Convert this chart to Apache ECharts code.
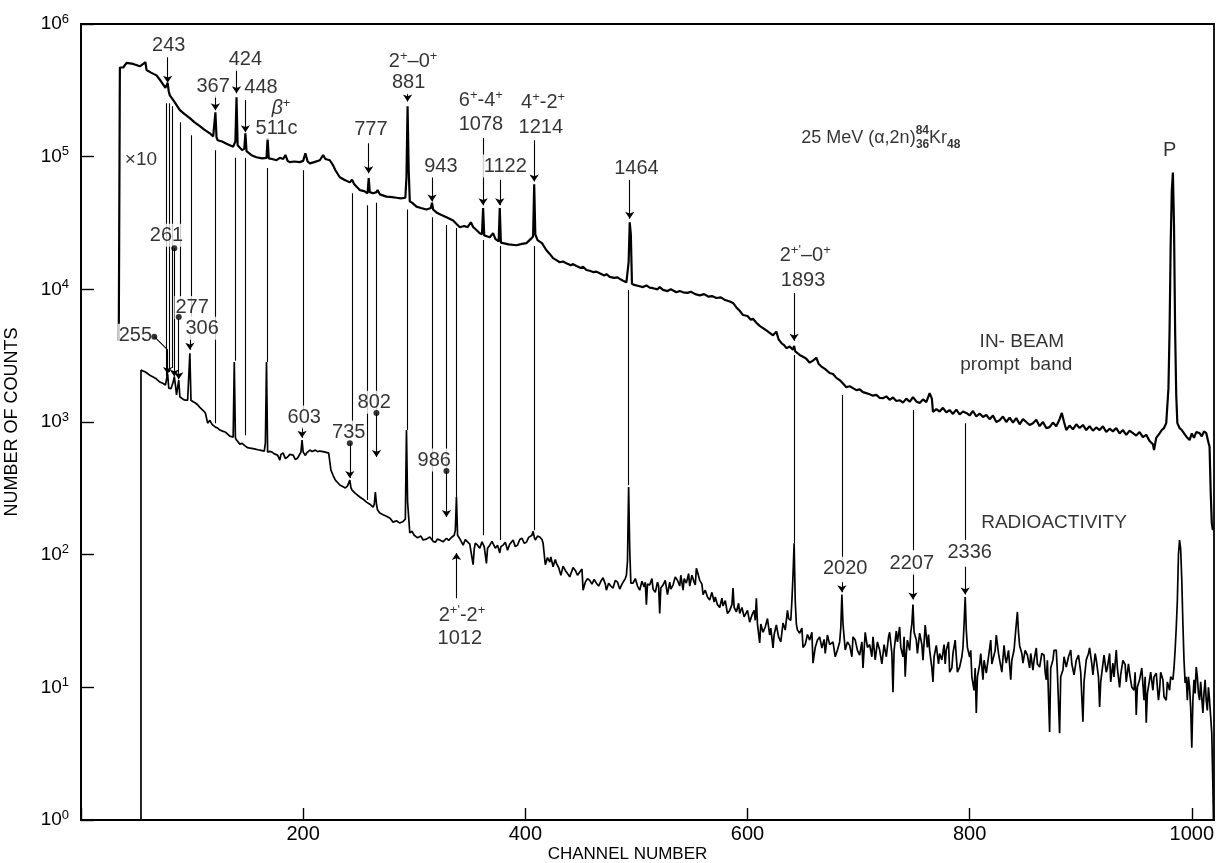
<!DOCTYPE html>
<html>
<head>
<meta charset="utf-8">
<script src="https://cdn.jsdelivr.net/npm/echarts@6/dist/echarts.min.js"></script>
<style>
  html, body { margin: 0; background: #fff; }
  #chart { width: 1219px; height: 863px; }
</style>
</head>
<body>
<div id="chart"></div>
<script>
// ── Espectro IN-BEAM (x10), [canal, cuentas] ─────────────────────────────
const IN_BEAM = [
  [34, 4100], [35, 4.7e5], [38, 4.7e5], [41, 5.1e5], [47, 5.0e5], [53, 4.8e5], [56, 5.0e5], [58, 5.15e5],
  [59, 4.5e5], [63, 4.3e5], [68, 4.1e5], [72, 3.7e5], [76, 3.3e5], [77, 3.4e5], [78, 3.6e5], [79, 3.1e5],
  [80, 2.9e5], [84, 2.6e5], [89, 2.24e5], [93, 2.1e5], [98, 1.95e5], [102, 1.82e5], [107, 1.7e5], [111, 1.6e5],
  [116, 1.5e5], [119, 1.42e5], [120, 1.45e5], [121, 2.16e5], [122, 1.4e5], [123, 1.33e5], [127, 1.3e5],
  [131, 1.25e5], [137, 1.19e5], [139, 1.3e5], [140, 2.8e5], [141, 1.22e5], [145, 1.12e5], [147, 1.15e5],
  [148, 1.5e5], [149, 1.1e5], [150, 1.08e5], [154, 1.02e5], [158, 9.9e4], [163, 9.7e4], [167, 9.8e4],
  [168, 1.38e5], [169, 9.7e4], [172, 9.6e4], [176, 9.4e4], [179, 9.8e4], [182, 9.6e4], [184, 1.03e5],
  [186, 9.3e4], [188, 9.1e4], [192, 9.2e4], [197, 9.1e4], [200, 9.3e4], [202, 1.06e5], [204, 9.2e4],
  [206, 8.9e4], [210, 9.1e4], [215, 9.4e4], [218, 1.03e5], [220, 9.6e4], [224, 9.4e4], [227, 8.6e4],
  [229, 7.9e4], [233, 7.0e4], [237, 6.7e4], [242, 6.4e4], [244, 6.7e4], [246, 6.2e4], [251, 5.6e4],
  [255, 5.5e4], [258, 5.3e4], [259, 6.9e4], [260, 5.4e4], [263, 5.3e4], [266, 5.4e4], [267, 5.6e4],
  [269, 5.2e4], [275, 5.0e4], [280, 4.95e4], [284, 4.9e4], [288, 4.85e4], [292, 4.9e4], [293, 7e4],
  [294, 2.4e5], [295, 8e4], [296, 4.6e4], [298, 4.5e4], [302, 4.2e4], [306, 4.1e4], [311, 4.0e4],
  [315, 4.1e4], [316, 4.5e4], [317, 4.0e4], [320, 3.8e4], [324, 3.65e4], [329, 3.5e4], [335, 3.3e4],
  [341, 2.94e4], [345, 3.0e4], [348, 2.94e4], [351, 3.2e4], [353, 2.95e4], [356, 2.8e4], [359, 2.65e4],
  [361, 2.6e4], [362, 4.1e4], [363, 2.55e4], [366, 2.5e4], [368, 2.47e4], [371, 2.65e4], [373, 2.4e4],
  [376, 2.3e4], [377, 4.1e4], [378, 2.25e4], [380, 2.23e4], [385, 2.18e4], [392, 2.15e4], [397, 2.2e4],
  [401, 2.23e4], [405, 2.4e4], [407, 2.5e4], [408, 6.2e4], [409, 2.6e4], [411, 2.35e4], [415, 2.23e4],
  [419, 1.97e4], [422, 1.85e4], [425, 1.72e4], [428, 1.66e4], [431, 1.6e4], [434, 1.62e4], [437, 1.57e4],
  [441, 1.52e4], [443, 1.55e4], [446, 1.5e4], [450, 1.45e4], [452, 1.48e4], [455, 1.4e4], [458, 1.38e4],
  [461, 1.35e4], [464, 1.36e4], [467, 1.32e4], [471, 1.27e4], [473, 1.3e4], [476, 1.24e4], [480, 1.22e4],
  [483, 1.23e4], [485, 1.2e4], [488, 1.16e4], [491, 1.13e4], [492, 1.15e4], [493, 1.6e4], [494, 3.2e4],
  [495, 2.6e4], [496, 1.1e4], [498, 1.08e4], [502, 1.06e4], [506, 1.04e4], [509, 1.07e4], [512, 1.03e4],
  [515, 1.02e4], [519, 1.0e4], [521, 1.04e4], [524, 9.9e3], [528, 9.7e3], [531, 1.0e4], [536, 9.5e3],
  [539, 9.7e3], [542, 9.5e3], [546, 9.4e3], [549, 9.6e3], [553, 9.2e3], [557, 9.0e3], [561, 9.2e3],
  [565, 8.8e3], [568, 8.9e3], [572, 8.6e3], [576, 8.7e3], [580, 8.3e3], [584, 8.1e3], [587, 7.9e3],
  [590, 7.3e3], [593, 6.9e3], [596, 6.4e3], [600, 6.3e3], [603, 5.9e3], [605, 6.0e3], [608, 5.6e3],
  [611, 5.3e3], [614, 5.1e3], [617, 4.9e3], [620, 4.7e3], [623, 4.5e3], [626, 4.8e3], [628, 4.2e3],
  [631, 3.9e3], [633, 3.8e3], [635, 3.6e3], [638, 3.7e3], [641, 3.5e3], [642, 3.75e3], [643, 3.4e3],
  [645, 3.3e3], [647, 3.2e3], [650, 3.1e3], [653, 3.0e3], [656, 2.8e3], [659, 2.9e3], [662, 3.05e3],
  [664, 2.75e3], [667, 2.6e3], [670, 2.5e3], [674, 2.34e3], [677, 2.3e3], [680, 2.15e3], [683, 2.07e3],
  [686, 1.95e3], [689, 1.83e3], [692, 1.86e3], [695, 1.8e3], [698, 1.74e3], [701, 1.76e3], [704, 1.68e3],
  [707, 1.65e3], [710, 1.62e3], [713, 1.58e3], [716, 1.6e3], [719, 1.52e3], [722, 1.51e3], [725, 1.56e3],
  [728, 1.47e3], [731, 1.53e3], [734, 1.44e3], [737, 1.46e3], [740, 1.4e3], [743, 1.5e3], [746, 1.42e3],
  [749, 1.54e3], [752, 1.43e3], [755, 1.39e3], [758, 1.48e3], [761, 1.41e3], [764, 1.65e3], [766, 1.5e3],
  [767, 1.19e3], [770, 1.25e3], [773, 1.2e3], [776, 1.28e3], [779, 1.18e3], [782, 1.23e3], [785, 1.15e3],
  [788, 1.24e3], [791, 1.14e3], [794, 1.2e3], [797, 1.17e3], [800, 1.12e3], [803, 1.21e3], [806, 1.1e3],
  [809, 1.16e3], [812, 1.09e3], [815, 1.13e3], [818, 1.05e3], [821, 1.12e3], [824, 1.0e3], [827, 1.03e3],
  [830, 1.1e3], [833, 1.0e3], [836, 1.08e3], [839, 990], [842, 1.07e3], [845, 960], [848, 1.05e3],
  [851, 1.0e3], [854, 950], [857, 980], [860, 1.04e3], [863, 930], [866, 1.0e3], [869, 900], [872, 915],
  [875, 990], [878, 930], [881, 1.05e3], [883, 1.17e3], [885, 1.0e3], [887, 870], [890, 940], [893, 880],
  [896, 960], [899, 900], [902, 950], [905, 870], [908, 930], [911, 860], [914, 910], [917, 870], [920, 930],
  [923, 840], [926, 890], [929, 850], [932, 900], [935, 820], [938, 870], [941, 800], [944, 860], [947, 825],
  [950, 790], [953, 840], [956, 770], [959, 800], [962, 720], [965, 680], [966, 614], [968, 760], [971, 820],
  [973, 870], [975, 900], [977, 980], [979, 1800], [980, 4.9e3], [981, 2.2e4], [982, 5.5e4], [983, 7.6e4],
  [984, 3.0e4], [985, 4.9e3], [986, 1.6e3], [987, 980], [989, 900], [991, 870], [994, 800], [996, 760],
  [998, 731], [1000, 820], [1002, 760], [1004, 840], [1007, 825], [1009, 780], [1011, 850], [1013, 825],
  [1015, 700], [1016, 650], [1017, 300], [1018, 173], [1019, 153]
];

// ── Espectro RADIOACTIVITY ───────────────────────────────────────────────
const RADIO = [
  [54, 1], [54, 2460], [58, 2380], [62, 2250], [67, 2140], [71, 2000], [74, 1950], [76, 1900], [77, 1850],
  [78, 2300], [79, 1800], [81, 1780], [82, 1800], [83, 2000], [84, 2200], [85, 1900], [86, 1600], [87, 1650],
  [88, 2070], [89, 1550], [90, 1510], [92, 1480], [94, 1460], [96, 1460], [97, 1470], [98, 3300], [99, 1460],
  [101, 1420], [103, 1390], [105, 1350], [107, 1290], [110, 1220], [112, 1170], [114, 980], [116, 1030],
  [118, 960], [121, 915], [123, 900], [125, 870], [128, 850], [130, 840], [132, 810], [134, 783], [137, 770],
  [138, 2830], [139, 760], [140, 731], [143, 681], [145, 690], [148, 658], [150, 640], [152, 636], [155, 630],
  [157, 625], [159, 618], [161, 614], [165, 604], [166, 700], [167, 2830], [168, 593], [170, 600], [172, 593],
  [174, 575], [177, 563], [179, 516], [180, 570], [182, 583], [184, 530], [186, 544], [188, 570], [191, 563],
  [193, 520], [195, 535], [198, 593], [199, 731], [200, 593], [202, 560], [203, 583], [206, 614], [208, 600],
  [211, 614], [213, 598], [215, 604], [218, 598], [220, 593], [223, 583], [225, 434], [227, 395], [229, 365],
  [231, 350], [233, 335], [236, 325], [238, 318], [240, 330], [242, 365], [243, 320], [244, 307], [247, 290],
  [251, 272], [254, 262], [257, 249], [260, 240], [263, 228], [264, 240], [265, 296], [266, 240], [267, 217],
  [269, 206], [272, 200], [275, 195], [278, 189], [281, 176], [284, 180], [287, 173], [290, 178], [292, 185],
  [293, 870], [294, 250], [296, 146], [298, 150], [300, 140], [303, 134], [306, 138], [308, 129], [311, 131],
  [314, 136], [317, 126], [319, 124], [321, 131], [323, 129], [326, 125], [329, 133], [331, 128], [334, 136],
  [336, 140], [337, 153], [338, 272], [339, 140], [341, 132], [344, 118], [346, 130], [347, 129], [350, 120],
  [353, 84], [354, 110], [355, 122], [357, 118], [359, 112], [361, 125], [363, 115], [365, 86], [366, 112],
  [368, 118], [370, 126], [373, 112], [375, 118], [377, 103], [378, 115], [380, 118], [382, 124], [384, 108],
  [386, 120], [389, 129], [391, 115], [393, 118], [395, 130], [397, 133], [399, 122], [401, 124], [403, 135],
  [406, 140], [407, 150], [408, 136], [409, 129], [411, 138], [413, 136], [415, 130], [416, 122], [418, 84],
  [420, 95], [422, 88], [423, 96], [425, 81], [427, 92], [428, 86], [430, 80], [432, 70], [434, 82], [436, 76],
  [438, 72], [440, 68], [443, 80], [445, 76], [447, 70], [449, 74], [451, 78], [452, 54], [454, 62], [456, 66],
  [458, 64], [460, 60], [462, 65], [464, 61], [466, 58], [468, 63], [470, 67], [472, 60], [473, 54], [475, 61],
  [477, 58], [479, 56], [481, 64], [483, 62], [485, 55], [487, 60], [488, 59], [490, 66], [491, 70], [492, 90],
  [493, 323], [494, 110], [495, 61], [497, 61], [499, 66], [501, 58], [503, 54], [505, 63], [507, 57],
  [508, 62], [509, 42], [510, 60], [512, 59], [514, 66], [515, 55], [517, 52], [519, 62], [520, 58], [521, 36],
  [522, 56], [524, 59], [526, 64], [528, 50], [530, 62], [531, 55], [533, 59], [535, 68], [537, 64], [539, 58],
  [540, 70], [542, 54], [543, 66], [545, 61], [547, 72], [548, 58], [550, 70], [552, 62], [553, 59], [554, 79],
  [555, 74], [557, 64], [559, 60], [560, 50], [562, 54], [564, 48], [566, 45.5], [568, 52], [570, 44],
  [571, 48], [573, 42], [575, 40], [577, 47], [578, 41], [580, 45], [582, 36], [584, 38], [586, 42], [587, 56],
  [588, 40], [590, 37], [592, 43], [593, 36], [595, 40], [597, 34], [598, 33], [600, 38], [602, 31], [604, 35],
  [606, 38], [607, 32], [608, 47], [609, 30], [611, 21.6], [612, 30], [614, 26], [616, 28.5], [618, 33],
  [620, 24.8], [621, 28], [623, 19.8], [624, 25], [626, 29.5], [628, 24], [630, 22], [632, 30.5], [634, 27],
  [636, 38], [637, 33], [639, 32], [640, 45], [641, 70], [642, 122], [643, 45], [644, 30], [645, 27],
  [647, 25.6], [649, 28], [650, 20], [652, 21], [654, 25], [656, 22.7], [658, 26], [659, 15.2], [661, 20],
  [663, 22.7], [665, 24], [667, 19.8], [669, 23], [670, 18], [672, 24.8], [674, 21], [677, 22], [679, 17],
  [681, 19.1], [683, 22], [684, 28], [685, 50], [686, 30], [688, 19.1], [690, 22], [692, 20.7], [694, 17],
  [695, 24], [697, 22.7], [699, 19], [701, 17.5], [703, 22], [704, 14], [706, 26], [708, 20], [710, 21],
  [712, 17], [713, 24], [715, 16.1], [717, 22], [719, 19.1], [721, 15], [723, 21], [725, 17], [727, 24],
  [728, 26], [730, 18], [731, 9.2], [732, 19], [734, 26.6], [735, 22], [737, 28.5], [738, 20], [740, 17],
  [741, 24], [742, 12], [743, 18], [744, 22.7], [746, 19], [747, 26], [748, 30], [749, 42], [750, 26],
  [752, 22.7], [753, 18], [755, 25.6], [757, 21], [758, 16], [760, 29.5], [762, 20], [763, 25], [764, 19.1],
  [766, 14], [767, 11], [768, 17], [770, 20.7], [772, 15], [773, 18], [775, 16.1], [777, 21], [778, 15],
  [779, 19.1], [781, 22], [782, 13], [784, 14], [785, 18], [787, 22.7], [788, 17], [789, 13], [791, 14.2],
  [793, 17], [794, 20], [795, 30], [796, 48], [797, 27], [798, 20], [800, 16.9], [801, 19], [802, 12],
  [804, 9.5], [805, 14], [806, 6.4], [807, 12], [809, 14.8], [810, 18], [812, 11.4], [813, 16], [815, 12.8],
  [817, 17], [819, 22.7], [820, 15], [821, 14.8], [823, 19], [824, 24.8], [826, 18], [827, 16.1], [829, 13],
  [831, 20.7], [832, 17], [833, 15.2], [835, 19], [837, 11.4], [838, 16], [840, 19.1], [841, 24], [842, 30],
  [843, 37], [844, 26], [845, 20.7], [847, 18], [848, 15.2], [850, 19], [852, 17.5], [854, 14], [855, 18],
  [857, 13.5], [858, 16], [860, 19.8], [861, 15], [863, 14.2], [865, 18], [867, 17.5], [868, 13], [869, 11.4],
  [870, 16], [872, 4.6], [873, 14], [875, 16.1], [876, 19], [878, 19.1], [879, 13], [881, 4.5], [882, 12],
  [884, 13.5], [885, 17], [887, 14.2], [889, 17], [891, 19.1], [892, 15], [894, 12.4], [896, 16], [898, 17.5],
  [900, 13], [902, 5.5], [903, 11], [905, 16.1], [907, 18], [908, 19.8], [910, 15], [911, 12.4], [913, 18],
  [914, 16.1], [916, 12], [917, 7.1], [918, 11], [920, 15], [921, 17.5], [923, 13], [924, 14], [926, 18],
  [927, 11], [929, 15.2], [930, 12], [932, 19.1], [933, 14], [935, 10], [936, 12.4], [938, 16], [940, 14.8],
  [941, 11], [943, 15], [944, 12.8], [946, 10], [948, 9.5], [949, 13], [950, 6.2], [951, 10], [953, 11.4],
  [955, 14], [957, 8], [958, 12], [959, 5.4], [960, 9], [962, 11.4], [963, 13], [965, 9.5], [966, 12],
  [968, 12.8], [970, 8], [971, 9.5], [972, 13], [974, 11.4], [975, 8.5], [977, 8], [978, 11], [980, 9.5],
  [981, 12], [983, 11.4], [984, 14], [985, 19.1], [986, 28], [987, 45], [988, 100], [989, 129], [990, 110],
  [991, 64], [992, 30], [993, 16], [994, 10.8], [995, 12], [996, 8], [997, 12], [998, 10], [999, 7],
  [1000, 3.5], [1001, 8], [1002, 11.4], [1003, 9], [1004, 14.2], [1005, 12], [1006, 9], [1007, 8], [1008, 11],
  [1010, 6.4], [1011, 9], [1012, 11.4], [1013, 8], [1014, 6.7], [1015, 10], [1016, 8], [1017, 6], [1018, 4.5],
  [1019, 1.8], [1019.5, 1]
];

// ── Líneas verticales que unen picos: [canal, cuentas arriba, cuentas abajo]
const CONNECTORS = [
  [77, 2.53e5, 2.2e3], [79.5, 2.53e5, 2.38e3], [82, 2.4e5, 2.55e3], [89, 1.82e5, 8.3e3], [99, 1.45e5, 5.9e3],
  [121, 1.12e5, 980], [139, 9.8e4, 2.9e3], [148, 9.8e4, 796], [168, 8.2e4, 2.83e3], [200, 7.9e4, 1.23e3],
  [244, 5.3e4, 948], [258, 4.3e4, 258], [266, 4.5e4, 1.17e3], [294, 4.0e4, 870], [316, 3.5e4, 129],
  [329, 3.05e4, 427], [338, 2.9e4, 272], [362, 2.35e4, 140], [377, 2.12e4, 129], [408, 2.12e4, 153],
  [493, 9.9e3, 335], [642, 3.2e3, 122], [685, 1.6e3, 91], [749, 1.23e3, 108], [796, 980, 129]
];

// ── Flechas: [canal, desde, hasta] (punta en "hasta")
const ARROWS = [
  [78, 5.62e5, 3.6e5], [121, 2.9e5, 2.24e5], [140, 4.6e5, 3.0e5], [148, 2.67e5, 1.53e5], [259, 1.26e5, 7.5e4],
  [294, 3.0e5, 2.6e5], [316, 7.0e4, 4.6e4], [362, 1.38e5, 4.3e4], [377, 6.7e4, 4.3e4], [408, 1.33e5, 6.5e4],
  [494, 6.7e4, 3.4e4], [642, 9.4e3, 4.1e3], [685, 62, 52], [749, 73, 46], [796, 81, 50], [98, 4.5e3, 3.5e3],
  [199, 915, 760], [242, 693, 378], [266, 1.17e3, 544], [329, 427, 192], [338, 47, 103], [78, 3.5e3, 2.3e3],
  [84, 2.04e4, 2.2e3], [88, 6.2e3, 2.1e3]
];

// ── Puntos de etiqueta y trazo inclinado (255)
const DOTS = [[66, 4.4e3], [84, 2.04e4], [88, 6.2e3], [242, 693], [266, 1.17e3], [329, 427]];
const SLANT = [[66, 4.4e3], [78, 3.5e3]];

// ── Etiquetas: [texto, canal, cuentas]
const LABELS = [
  ['{n|243}', 79, 6.9e5], ['{n|367}', 119, 3.4e5], ['{n|424}', 148, 5.4e5], ['{n|448}', 162, 3.3e5],
  ['{b|β}{s|+}', 180, 2.3e5], ['{n|511c}', 176, 1.64e5], ['{n|777}', 261, 1.61e5],
  ['{n|2}{s|+}{n|–0}{s|+}', 299, 5.2e5], ['{n|881}', 295, 3.6e5], ['{n|943}', 324, 8.5e4],
  ['{n|6}{s|+}{n|-4}{s|+}', 360, 2.67e5], ['{n|1078}', 360, 1.76e5], ['{n|1122}', 382, 8.5e4],
  ['{n|4}{s|+}{n|-2}{s|+}', 416, 2.58e5], ['{n|1214}', 414, 1.67e5], ['{n|1464}', 500, 8.2e4],
  ['{n|P}', 980, 1.12e5], ['{w|×10}', 54, 9.4e4],
  ["{n|2}{s|+'}{n|–0}{s|+}", 652, 1.81e4], ['{n|1893}', 650, 1.17e4],
  ['{w|IN- BEAM}', 847, 4.0e3], ['{w|prompt  band}', 842, 2.7e3], ['{w|RADIOACTIVITY}', 876, 173],
  ['{n|2020}', 688, 79], ['{n|2207}', 748, 86], ['{n|2336}', 800, 103],
  ['{n|255}', 49, 4.5e3], ['{n|261}', 77, 2.56e4], ['{n|277}', 100, 7.3e3], ['{n|306}', 109, 5.1e3],
  ['{n|603}', 201, 1.09e3], ['{n|735}', 241, 840], ['{n|802}', 264, 1.41e3], ['{n|986}', 318, 516],
  ["{n|2}{s|+'}{n|-2}{s|+}", 343, 35], ['{n|1012}', 341, 23.5]
];

// reacción, anclada a la izquierda
const REACTION_TEXT = '25 MeV (α,2n)';
const REACTION_AT = [647, 1.38e5];

const FONT = 'Liberation Sans';
const INK = '#000';

const rich = {
  n: { fontFamily: FONT, fontSize: 20, lineHeight: 23, color: INK },
  w: { fontFamily: FONT, fontSize: 19, lineHeight: 23, color: INK },
  b: { fontFamily: FONT, fontSize: 20, lineHeight: 23, color: INK, fontStyle: 'italic' },
  s: { fontFamily: FONT, fontSize: 13, lineHeight: 13, color: INK, verticalAlign: 'top' },
  m: { fontFamily: FONT, fontSize: 18, lineHeight: 26, color: INK },
  u: { fontFamily: FONT, fontSize: 12, lineHeight: 12, color: INK, fontWeight: 'bold', verticalAlign: 'top' },
  d: { fontFamily: FONT, fontSize: 12, lineHeight: 12, color: INK, fontWeight: 'bold', verticalAlign: 'bottom' },
  g: { fontFamily: FONT, fontSize: 1, lineHeight: 26 },
  yb: { fontFamily: FONT, fontSize: 19, lineHeight: 23, color: INK },
  ye: { fontFamily: FONT, fontSize: 13, lineHeight: 13, color: INK, verticalAlign: 'top' }
};

const ctx = document.createElement('canvas').getContext('2d');
ctx.font = '18px "' + FONT + '"';
const reactionW = ctx.measureText(REACTION_TEXT).width;

const el = document.getElementById('chart');
const chart = echarts.init(el, null, { renderer: 'canvas' });

const labelData = LABELS.map(([txt, ch, v]) => ({ value: [ch, v], txt }));
labelData.push({ value: REACTION_AT, txt: '{m|' + REACTION_TEXT + '}{u|84}{m|Kr}{d|48}',
  label: { position: 'right', distance: 0, backgroundColor: 'transparent' } });
labelData.push({ value: REACTION_AT, txt: '{g| }{d|36}',
  label: { position: 'right', distance: 0, offset: [reactionW, 0], backgroundColor: 'transparent' } });

chart.setOption({
  animation: false,
  backgroundColor: '#fff',
  grid: {
    left: 81, right: 5, top: 24, bottom: 43, containLabel: false, outerBoundsMode: 'none',
    show: true, borderColor: INK, borderWidth: 1.8
  },
  xAxis: {
    type: 'value', min: 0, max: 1020, interval: 200,
    name: 'CHANNEL NUMBER', nameLocation: 'middle', nameGap: 26, nameMoveOverlap: false,
    nameTextStyle: { fontFamily: FONT, fontSize: 17, color: INK, padding: [0, 40, 0, 0] },
    axisLine: { lineStyle: { color: INK, width: 1.8 } },
    axisTick: { inside: true, length: 12, lineStyle: { color: INK, width: 1.4 } },
    axisLabel: { fontFamily: FONT, fontSize: 20, color: INK, margin: 4, formatter: v => (v === 0 ? '' : v) },
    splitLine: { show: false }
  },
  yAxis: {
    type: 'log', logBase: 10, min: 1, max: 1e6, splitNumber: 6,
    name: 'NUMBER OF COUNTS', nameLocation: 'middle', nameGap: 60, nameRotate: 90, nameMoveOverlap: false,
    nameTextStyle: { fontFamily: FONT, fontSize: 18, color: INK },
    axisLine: { lineStyle: { color: INK, width: 1.8 } },
    axisTick: { inside: true, length: 13, lineStyle: { color: INK, width: 1.4 } },
    minorTick: { show: false },
    axisLabel: {
      margin: 12, rich,
      formatter: v => '{yb|10}{ye|' + Math.round(Math.log10(v)) + '}'
    },
    splitLine: { show: false }
  },
  series: [
    {
      name: 'connectors', type: 'lines', coordinateSystem: 'cartesian2d', z: 1, silent: true,
      lineStyle: { color: INK, width: 1.1, opacity: 1 },
      data: CONNECTORS.map(([ch, a, b]) => ({ coords: [[ch, a], [ch, b]] }))
        .concat([{ coords: SLANT }])
    },
    {
      name: 'arrows', type: 'lines', coordinateSystem: 'cartesian2d', z: 1, silent: true,
      symbol: ['none', 'arrow'], symbolSize: 7,
      lineStyle: { color: INK, width: 1.1, opacity: 1 },
      data: ARROWS.map(([ch, a, b]) => ({ coords: [[ch, a], [ch, b]] }))
    },
    {
      name: 'IN-BEAM', type: 'line', data: IN_BEAM, showSymbol: false, z: 3,
      lineStyle: { color: INK, width: 2.2 }, silent: true
    },
    {
      name: 'RADIOACTIVITY', type: 'line', data: RADIO, showSymbol: false, z: 3,
      lineStyle: { color: INK, width: 1.7 }, silent: true
    },
    {
      name: 'labels', type: 'scatter', data: labelData, symbolSize: 1, z: 5, silent: true,
      itemStyle: { color: 'rgba(0,0,0,0)' },
      label: {
        show: true, position: 'inside', rich, backgroundColor: '#fff', padding: [0, 1],
        formatter: p => p.data.txt
      }
    },
    {
      name: 'dots', type: 'scatter', data: DOTS, symbolSize: 6, z: 6, silent: true,
      itemStyle: { color: INK }
    }
  ]
});

window.addEventListener('resize', () => chart.resize());
</script>
</body>
</html>
